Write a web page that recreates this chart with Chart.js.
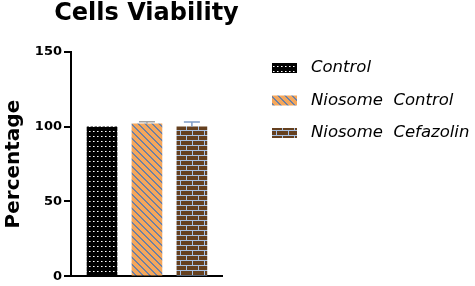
<!DOCTYPE html>
<html>
<head>
<meta charset="utf-8">
<script src="https://cdn.jsdelivr.net/npm/chart.js@4"></script>
<style>
  html, body { margin: 0; padding: 0; background: #fff; }
  #wrap { width: 475px; height: 286px; }
</style>
</head>
<body>
<div id="wrap"><canvas id="myChart" width="475" height="286"></canvas></div>
<script>
// values
var groups = ["Control", "Niosome  Control", "Niosome  Cefazolin"];
var viability = [100, 102, 100];
var errUp = [0, 1.3, 3.1];
var yTicks = [0, 50, 100, 150];
var errColors = ["#000000", "#a3a3a3", "#7f9cc6"];
var chartTitle = "Cells Viability";

// pixel tiles for the hatch fills
function makeTile(w, h, paint) {
  var c = document.createElement("canvas");
  c.width = w; c.height = h;
  var g = c.getContext("2d");
  paint(g, w, h);
  return document.getElementById("myChart").getContext("2d").createPattern(c, "repeat");
}
var dots = makeTile(4, 5, function(g, w, h){
  g.fillStyle = "#000"; g.fillRect(0, 0, w, h);
  g.fillStyle = "#8a8a8a"; g.fillRect(1, 1, 2, 1);
  g.fillStyle = "#ffffff"; g.fillRect(1, 1, 1, 1);
});
var stripes = makeTile(7, 7, function(g, w, h){
  g.fillStyle = "#f5a75b"; g.fillRect(0, 0, w, h);
  g.fillStyle = "#6f80a2";
  for (var y = 0; y < h; y++) for (var x = 0; x < w; x++) {
    var d = ((x - y) % 7 + 7) % 7;
    if (d < 2) g.fillRect(x, y, 1, 1);
  }
});
var bricks = makeTile(12, 10, function(g, w, h){
  g.fillStyle = "#65401f"; g.fillRect(0, 0, w, h);
  g.fillStyle = "#a8c2e4";
  g.fillRect(0, 0, w, 1); g.fillRect(0, 5, w, 1);
  g.fillRect(0, 0, 1, 5); g.fillRect(6, 5, 1, 5);
});
var fills = [dots, stripes, bricks];

var barPoints = groups.map(function(name, i){ return {x: i + 1, y: viability[i]}; });

// error bars on top of each bar, using the y scale
var errorBars = {
  id: "errorBars",
  afterDatasetsDraw: function(chart){
    var ctx = chart.ctx;
    var ys = chart.scales.y;
    var meta = chart.getDatasetMeta(0);
    meta.data.forEach(function(bar, i){
      if (!errUp[i]) return;
      var top = ys.getPixelForValue(viability[i] + errUp[i]);
      ctx.save();
      ctx.strokeStyle = errColors[i];
      ctx.lineWidth = 1.5;
      ctx.beginPath();
      ctx.moveTo(bar.x, bar.y);
      ctx.lineTo(bar.x, top);
      ctx.moveTo(bar.x - 8, top);
      ctx.lineTo(bar.x + 8, top);
      ctx.stroke();
      ctx.restore();
    });
  }
};

// title + legend drawn by hand; the built-in title gets squeezed to the plot width
var sideLegend = {
  id: "sideLegend",
  afterDraw: function(chart){
    var ctx = chart.ctx;
    var area = chart.chartArea;
    ctx.save();
    ctx.fillStyle = "#000";
    ctx.font = "bold 24px 'DejaVu Sans'";
    ctx.textAlign = "center";
    ctx.textBaseline = "middle";
    ctx.fillText(chartTitle, (area.left + area.right) / 2, 14);

    ctx.font = "oblique 16.5px 'DejaVu Sans'";
    ctx.textAlign = "left";
    groups.forEach(function(name, i){
      var cy = 68 + i * 32.5;
      ctx.fillStyle = fills[i];
      ctx.fillRect(272, cy - 5, 25, 10);
      ctx.fillStyle = "#000";
      ctx.fillText(name, 311, cy);
    });
    ctx.restore();
  }
};

var ctx = document.getElementById("myChart").getContext("2d");
var myChart = new Chart(ctx, {
  type: "bar",
  data: {
    datasets: [{
      data: barPoints,
      backgroundColor: fills,
      borderWidth: 0,
      barThickness: 30
    }]
  },
  options: {
    responsive: false,
    animation: false,
    layout: { padding: { left: 0, right: 253, top: 52, bottom: 0 } },
    plugins: {
      legend: { display: false },
      tooltip: { enabled: false },
      title: { display: false }
    },
    scales: {
      x: {
        type: "linear",
        min: 0.31,
        max: 3.67,
        offset: false,
        bounds: "ticks",
        ticks: { display: false },
        grid: { display: false },
        border: { display: true, color: "#000", width: 2 },
        afterDataLimits: function(s){ s.min = 0.31; s.max = 3.67; },
        afterFit: function(s){ s.height = 9; }
      },
      y: {
        min: 0,
        max: 150,
        afterBuildTicks: function(s){ s.ticks = yTicks.map(function(v){ return {value: v}; }); },
        ticks: {
          color: "#000",
          padding: 2,
          font: { family: "'DejaVu Sans'", size: 13, weight: "bold" }
        },
        grid: { drawOnChartArea: false, drawTicks: true, tickLength: 7, color: "#000", lineWidth: 2 },
        border: { display: true, color: "#000", width: 2 },
        title: {
          display: true,
          text: "Percentage",
          color: "#000",
          font: { family: "'DejaVu Sans'", size: 20, weight: "bold" },
          padding: { top: 2, bottom: 0 }
        },
        afterFit: function(s){ s.width = 71; }
      }
    }
  },
  plugins: [errorBars, sideLegend]
});
</script>
</body>
</html>
